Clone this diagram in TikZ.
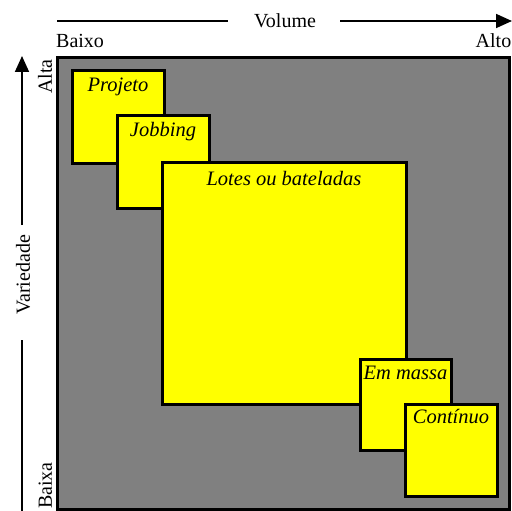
\documentclass[tikz,border=0pt]{standalone}
\usepackage{fontspec}
\setmainfont{Liberation Serif}
\usetikzlibrary{arrows.meta}
\definecolor{bggray}{HTML}{808080}
\definecolor{boxyellow}{HTML}{FFFF00}
\tikzset{
  x=1pt, y=-1pt,
  txt/.style={font=\fontsize{20}{23}\selectfont, inner sep=0pt, text=black},
  boxlab/.style={font=\fontsize{20.5}{23}\selectfont\itshape, inner sep=0pt, anchor=base},
  pbox/.style={draw=black, line width=3pt, fill=boxyellow, inner sep=0pt},
  axis/.style={line width=1.8pt, draw=black},
  axarrow/.style={axis, -{Triangle[length=16pt,width=14pt]}}
}
\begin{document}
\begin{tikzpicture}
\useasboundingbox (0,0) rectangle (512,511);
% background panel
\draw[line width=3pt, fill=bggray] (57.5,57.5) rectangle (509.5,509.5);

% axis labels
\node[txt, anchor=base west] (baixo) at (56,48) {Baixo};
\node[txt, anchor=base east] (alto) at (511.5,48) {Alto};
\node[txt, anchor=center] (vol) at (285,21) {Volume};
\coordinate (vl0) at (57,21);
\coordinate (vl1) at (228,21);
\coordinate (vr0) at (340,21);
\coordinate (vr1) at (512,21);
\draw[axis] (vl0) -- (vl1);
\draw[axarrow] (vr0) -- (vr1);

\node[txt, rotate=90, anchor=base west] (alta) at (52,94) {Alta};
\node[txt, rotate=90, anchor=base west] (baixa) at (52,509) {Baixa};
\node[txt, rotate=90, anchor=center] (var) at (23,275) {Variedade};
\coordinate (hb0) at (22,511);
\coordinate (hb1) at (22,340);
\coordinate (ht0) at (22,225);
\coordinate (ht1) at (22,56);
\draw[axis] (hb0) -- (hb1);
\draw[axarrow] (ht0) -- (ht1);

% process boxes
\node[pbox, minimum width=92pt, minimum height=92pt] (proj) at (118,117) {};
\node[boxlab] at ([yshift=-22pt]proj.north) {Projeto};
\node[pbox, minimum width=92pt, minimum height=92pt] (job) at (163,162) {};
\node[boxlab] at ([yshift=-22pt]job.north) {Jobbing};
\node[pbox, minimum width=244pt, minimum height=242pt] (lotes) at (284,283) {};
\node[boxlab] at ([yshift=-25pt]lotes.north) {Lotes ou bateladas};
\node[pbox, minimum width=91pt, minimum height=91pt] (massa) at (405.5,404.5) {};
\node[boxlab] at ([yshift=-22pt]massa.north) {Em massa};
\node[pbox, minimum width=92pt, minimum height=92pt] (cont) at (451,450) {};
\node[boxlab] at ([yshift=-21pt]cont.north) {Contínuo};
\end{tikzpicture}
\end{document}
